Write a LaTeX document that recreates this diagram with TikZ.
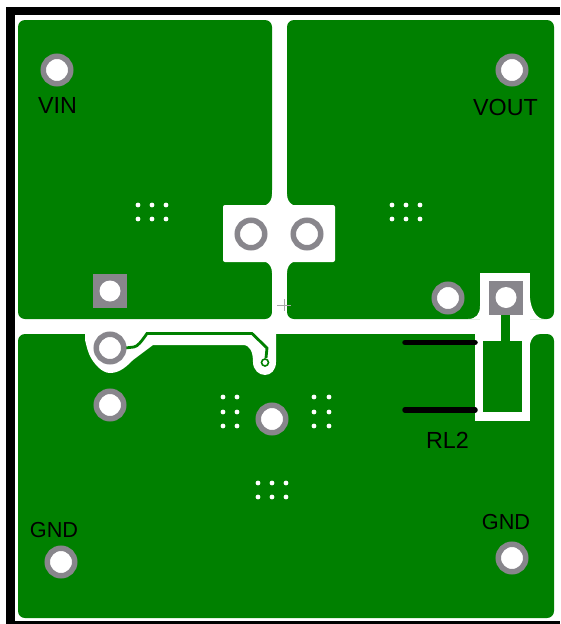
\documentclass[tikz,border=0pt]{standalone}
\usepackage{fontspec}
\setmainfont{Liberation Sans}
\definecolor{pcb}{RGB}{0,128,0}
\definecolor{padgrey}{RGB}{136,134,140}
\tikzset{
 x=1pt,y=-1pt,
 copper/.style={fill=pcb,draw=none,rounded corners=7pt},
 ringpad/.style={circle,draw=padgrey,line width=5.5pt,fill=white,minimum size=27.5pt,inner sep=0pt,outer sep=0pt},
 squarepad/.style={rectangle,fill=padgrey,minimum size=34pt,inner sep=0pt},
 hole/.style={circle,fill=white,minimum size=21pt,inner sep=0pt},
 via/.style={circle,fill=white,minimum size=4.8pt,inner sep=0pt},
 lbl/.style={font=\fontsize{23.3}{23.3}\selectfont,text=black,inner sep=0pt},
 clearance/.style={fill=white,draw=none},
 thick line/.style={line width=5.5pt,line cap=round,draw=black}
}
\begin{document}
\begin{tikzpicture}
\useasboundingbox (0,0) rectangle (560,624);
\fill[white] (0,0) rectangle (560,624);
% board outline
\fill[black] (6,7) rectangle (560,15);
\fill[black] (6,7) rectangle (15,624);
\fill[black] (6,621) rectangle (560,624);
% copper pours
\fill[copper] (18,20) rectangle (272,319);
\fill[copper] (287,20) rectangle (554,319);
\fill[copper] (18,334) rectangle (554,618);
% central clearance under pads
\fill[clearance,rounded corners=2pt] (223,205) rectangle (335,262);
\fill[clearance] (272,190) rectangle (287,330);
\fill[clearance] (266,205) .. controls (270,203) and (272,199) .. (272,194) -- (287,194) .. controls (287,199) and (289,203) .. (293,205) -- cycle;
\fill[clearance] (266,262) .. controls (270,264) and (272,268) .. (272,273) -- (287,273) .. controls (287,268) and (289,264) .. (293,262) -- cycle;
% lower left clearance
\fill[clearance] (85,330) -- (85,340) .. controls (87,348) and (88,352) .. (90,356) .. controls (94,364) and (102,373) .. (110,373) .. controls (120,373) and (127,366) .. (133,360) -- (153,345) -- (243,345) .. controls (250,345) and (253,352) .. (253,362) .. controls (253,370) and (259,375) .. (265,375) .. controls (271,375) and (276,370) .. (276,362) -- (276,330) -- cycle;
% trace
\draw[pcb,line width=2.8pt] (125,348) -- (134,347) .. controls (138,346) and (141,342) .. (147,333.5) -- (252,333.5) -- (267,348) -- (266,358);
\node[circle,draw=pcb,line width=1.6pt,fill=white,minimum size=7pt,inner sep=0pt] (tv) at (265,362.5) {};
% right clearances
\fill[clearance] (480,273) rectangle (530,335);
\fill[clearance] (475,334) rectangle (530,421);
\fill[clearance] (480,306) .. controls (480,314) and (476,319) .. (468,319) -- (480,319) -- cycle;
\fill[pcb] (483,341) rectangle (522,412);
\fill[pcb] (501,312) rectangle (510,345);
% right side blob corners
\fill[clearance] (530,298) .. controls (531,310) and (537,319) .. (544,319) -- (530,319) -- cycle;
\fill[clearance] (530,334) -- (540,334) .. controls (535,334) and (531,338) .. (530,344) -- cycle;
% black bars
\draw[thick line] (405,342.5) -- (475,342.5);
\draw[thick line] (405,410) -- (475,410);
% pads
\node[ringpad] (vin) at (57,70) {};
\node[ringpad] (vout) at (512,70) {};
\node[ringpad] (p1) at (251,234) {};
\node[ringpad] (p2) at (307,234) {};
\node[ringpad] (p3) at (448,298) {};
\node[ringpad] (p4) at (110,348) {};
\node[ringpad] (p5) at (110,405) {};
\node[ringpad] (p6) at (272,419) {};
\node[ringpad] (gndl) at (61,562) {};
\node[ringpad] (gndr) at (512,558) {};
\node[squarepad] (s1) at (110,291) {};
\node[hole] at (s1) {};
\node[squarepad] (s2) at (506,297.5) {};
\node[hole] at (s2) {};
% via groups
\foreach \x in {138,152,166}\foreach \y in {205,219}{\node[via] at (\x,\y) {};}
\foreach \x in {392,406,420}\foreach \y in {205,219}{\node[via] at (\x,\y) {};}
\foreach \x in {223,237}\foreach \y in {397,412,426}{\node[via] at (\x,\y) {};}
\foreach \x in {314,329}\foreach \y in {397,412,426}{\node[via] at (\x,\y) {};}
\foreach \x in {258,272,286}\foreach \y in {483,497}{\node[via] at (\x,\y) {};}
% labels
\node[lbl] (tvin) at (57.5,105) {VIN};
\node[lbl] (tvout) at (505.5,107) {VOUT};
\node[lbl,font=\fontsize{21.7}{21.7}\selectfont] (tgl) at (54,530) {GND};
\node[lbl,font=\fontsize{21.7}{21.7}\selectfont] (tgr) at (506,522) {GND};
\node[lbl] (trl) at (447.5,440) {RL2};
% small cross
\draw[black!35,line width=0.4pt] (277,305) -- (291,305) (284,299) -- (284,311);
\end{tikzpicture}
\end{document}
